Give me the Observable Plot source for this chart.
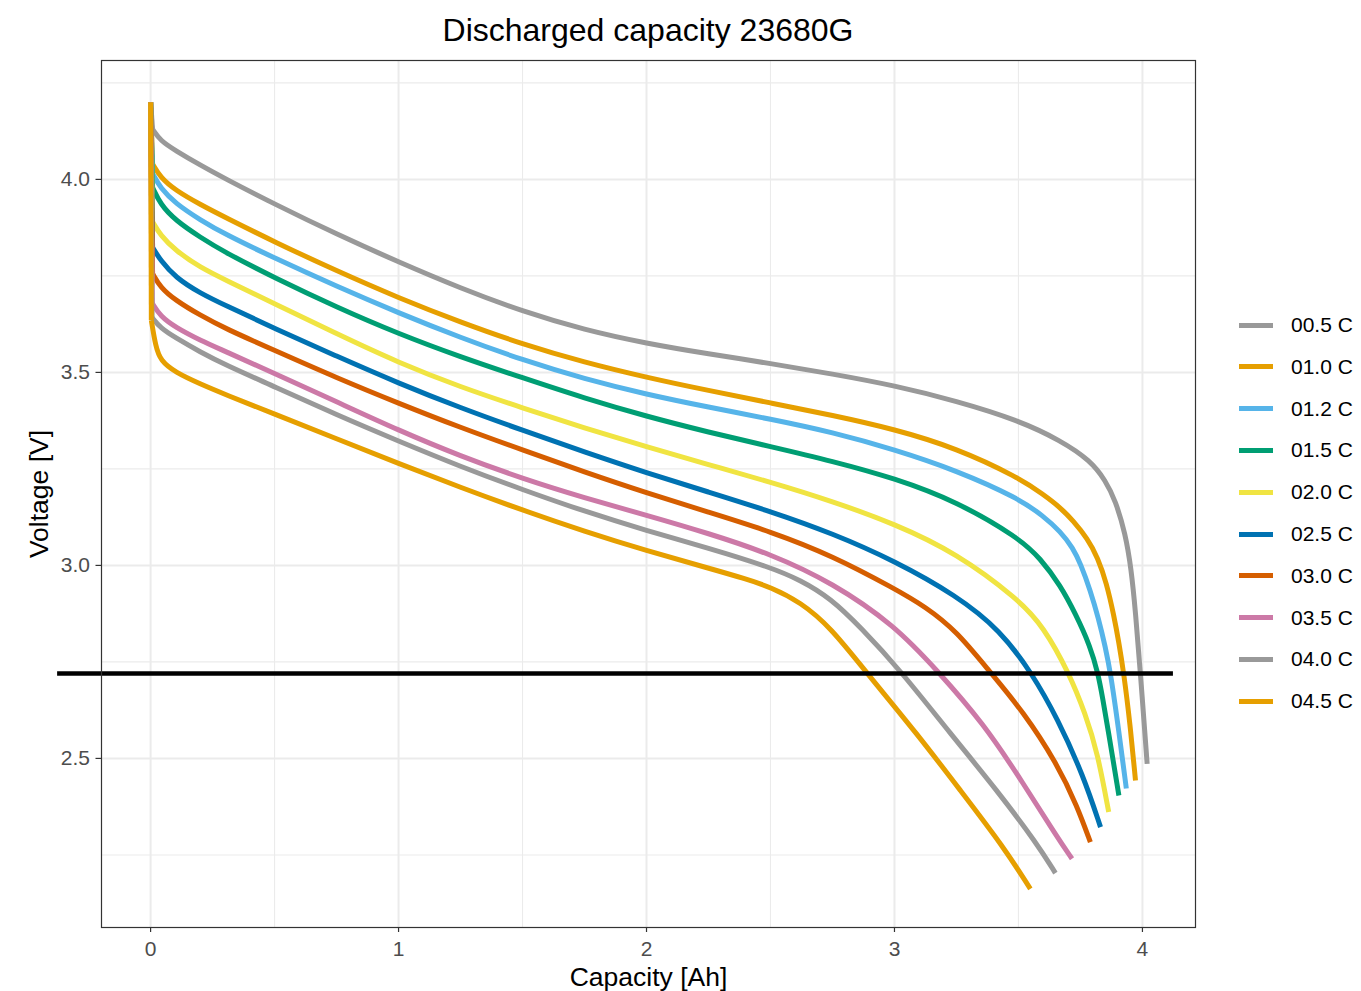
<!DOCTYPE html>
<html>
<head>
<meta charset="utf-8">
<script src="https://cdn.jsdelivr.net/npm/d3@7"></script>
<script src="https://cdn.jsdelivr.net/npm/@observablehq/plot@0.6"></script>
<style>
  body { margin: 0; background: #fff; font-family: "Liberation Sans", Arial, sans-serif; }
  #wrap { position: relative; width: 1361px; height: 991px; overflow: hidden; background: #fff; }
  #title { position: absolute; left: 101px; width: 1094px; top: 10px; text-align: center;
           font-size: 32px; line-height: 40px; color: #000; white-space: nowrap; }
  #chart { position: absolute; left: 0; top: 50px; }
  .lg { position: absolute; left: 1239px; height: 40px; display: flex; align-items: center; }
  .lg .sw { width: 34px; height: 5px; }
  .lg .tx { margin-left: 18px; font-size: 21px; color: #000; white-space: nowrap; }
</style>
</head>
<body>
<div id="wrap">
  <div id="title">Discharged capacity 23680G</div>
  <div id="chart"></div>
</div>
<script>
// ---- series labels & colours ----
const rates = ["00.5 C", "01.0 C", "01.2 C", "01.5 C", "02.0 C", "02.5 C", "03.0 C", "03.5 C", "04.0 C", "04.5 C"];
const palette = ["#999999", "#E69F00", "#56B4E9", "#009E73", "#F0E442", "#0072B2", "#D55E00", "#CC79A7", "#999999", "#E69F00"];

// ---- axis ticks / grid ----
const xTicks = [0, 1, 2, 3, 4];
const xMinor = [0.5, 1.5, 2.5, 3.5];
const yTicks = [2.5, 3.0, 3.5, 4.0];
const yMinor = [2.25, 2.75, 3.25, 3.75, 4.25];
const xDomain = [-0.198, 4.214];
const yDomain = [2.062, 4.308];

// ---- cut-off line ----
const cutoffVoltage = 2.72;
const cutoffFrom = -0.375;
const cutoffTo = 4.125;

// ---- discharge curves: capacity [Ah] and voltage [V] ----
const cap05  = [0, 0.008, 0.04, 0.1, 0.2, 0.3, 0.5, 0.75, 1.0, 1.25, 1.5, 1.75, 2.0, 2.25, 2.5, 2.75, 3.0, 3.25, 3.5, 3.669, 3.79, 3.851, 3.891, 3.931, 3.955, 3.972, 3.992, 4.019];
const volt05 = [4.2, 4.13, 4.10, 4.075, 4.037, 4.002, 3.936, 3.858, 3.786, 3.718, 3.658, 3.610, 3.575, 3.548, 3.523, 3.496, 3.466, 3.426, 3.376, 3.324, 3.272, 3.22, 3.168, 3.083, 2.99, 2.88, 2.72, 2.486];

const cap10  = [0, 0.008, 0.04, 0.1, 0.2, 0.3, 0.5, 0.75, 1.0, 1.25, 1.5, 1.75, 2.0, 2.25, 2.5, 2.75, 3.0, 3.25, 3.5, 3.6, 3.669, 3.72, 3.778, 3.82, 3.855, 3.885, 3.905, 3.925, 3.95, 3.972];
const volt10 = [4.2, 4.04, 4.005, 3.972, 3.935, 3.902, 3.838, 3.763, 3.693, 3.630, 3.573, 3.526, 3.487, 3.453, 3.421, 3.389, 3.353, 3.304, 3.228, 3.184, 3.15, 3.116, 3.07, 3.02, 2.955, 2.87, 2.80, 2.72, 2.59, 2.443];

const cap12  = [0, 0.008, 0.04, 0.1, 0.2, 0.3, 0.5, 0.75, 1.0, 1.25, 1.5, 1.75, 2.0, 2.25, 2.5, 2.75, 3.0, 3.25, 3.5, 3.6, 3.669, 3.72, 3.75, 3.79, 3.823, 3.85, 3.872, 3.905, 3.935];
const volt12 = [4.2, 4.015, 3.977, 3.938, 3.895, 3.858, 3.796, 3.723, 3.654, 3.590, 3.532, 3.483, 3.443, 3.410, 3.379, 3.345, 3.300, 3.246, 3.174, 3.128, 3.088, 3.045, 3.005, 2.935, 2.862, 2.79, 2.72, 2.57, 2.422];

const cap15  = [0, 0.008, 0.04, 0.1, 0.2, 0.3, 0.5, 0.75, 1.0, 1.25, 1.5, 1.75, 2.0, 2.25, 2.5, 2.75, 3.0, 3.25, 3.5, 3.589, 3.669, 3.73, 3.79, 3.821, 3.84, 3.86, 3.905];
const volt15 = [4.2, 3.979, 3.935, 3.894, 3.85, 3.811, 3.745, 3.669, 3.600, 3.540, 3.486, 3.433, 3.386, 3.345, 3.308, 3.27, 3.226, 3.166, 3.072, 3.018, 2.948, 2.875, 2.79, 2.72, 2.655, 2.58, 2.404];

const cap20  = [0, 0.008, 0.04, 0.1, 0.2, 0.3, 0.5, 0.75, 1.0, 1.25, 1.5, 1.75, 2.0, 2.25, 2.5, 2.75, 3.0, 3.25, 3.5, 3.6, 3.705, 3.77, 3.819, 3.864];
const volt20 = [4.2, 3.89, 3.855, 3.816, 3.772, 3.74, 3.678, 3.60, 3.525, 3.462, 3.408, 3.356, 3.307, 3.261, 3.216, 3.166, 3.108, 3.032, 2.912, 2.842, 2.72, 2.615, 2.515, 2.361];

const cap25  = [0, 0.008, 0.04, 0.1, 0.2, 0.3, 0.5, 0.75, 1.0, 1.25, 1.5, 1.75, 2.0, 2.25, 2.5, 2.75, 3.0, 3.25, 3.427, 3.555, 3.657, 3.762, 3.831];
const volt25 = [4.2, 3.824, 3.79, 3.746, 3.705, 3.674, 3.614, 3.542, 3.472, 3.408, 3.350, 3.294, 3.240, 3.19, 3.14, 3.083, 3.012, 2.922, 2.832, 2.72, 2.604, 2.455, 2.322];

const cap30  = [0, 0.008, 0.04, 0.1, 0.2, 0.3, 0.5, 0.75, 1.0, 1.25, 1.5, 1.75, 2.0, 2.25, 2.5, 2.75, 3.0, 3.125, 3.25, 3.38, 3.521, 3.656, 3.737, 3.79];
const volt30 = [4.2, 3.756, 3.72, 3.687, 3.648, 3.614, 3.557, 3.486, 3.420, 3.357, 3.299, 3.242, 3.188, 3.138, 3.088, 3.025, 2.94, 2.893, 2.83, 2.728, 2.620, 2.486, 2.376, 2.283];

const cap35  = [0, 0.007, 0.04, 0.1, 0.2, 0.3, 0.5, 0.75, 1.0, 1.25, 1.5, 1.75, 2.0, 2.25, 2.5, 2.75, 3.0, 3.172, 3.36, 3.521, 3.656, 3.716];
const volt35 = [4.2, 3.679, 3.645, 3.617, 3.583, 3.555, 3.497, 3.424, 3.350, 3.283, 3.225, 3.175, 3.13, 3.083, 3.03, 2.955, 2.845, 2.728, 2.59, 2.434, 2.296, 2.24];

const cap40  = [0, 0.006, 0.04, 0.1, 0.2, 0.3, 0.5, 0.75, 1.0, 1.25, 1.5, 1.75, 2.0, 2.25, 2.5, 2.621, 2.742, 2.863, 3.024, 3.226, 3.414, 3.575, 3.649];
const volt40 = [4.2, 3.642, 3.615, 3.59, 3.553, 3.52, 3.463, 3.39, 3.322, 3.256, 3.196, 3.14, 3.09, 3.045, 2.995, 2.962, 2.915, 2.84, 2.728, 2.564, 2.417, 2.279, 2.203];

const cap45  = [0, 0.003, 0.02, 0.04, 0.1, 0.2, 0.3, 0.5, 0.75, 1.0, 1.25, 1.5, 1.75, 2.0, 2.25, 2.4, 2.5, 2.621, 2.742, 2.89, 3.091, 3.266, 3.441, 3.548];
const volt45 = [4.2, 3.635, 3.568, 3.53, 3.50, 3.47, 3.443, 3.392, 3.328, 3.264, 3.202, 3.143, 3.088, 3.038, 2.993, 2.965, 2.944, 2.905, 2.84, 2.72, 2.564, 2.417, 2.27, 2.162];

const capacities = [cap05, cap10, cap12, cap15, cap20, cap25, cap30, cap35, cap40, cap45];
const voltages   = [volt05, volt10, volt12, volt15, volt20, volt25, volt30, volt35, volt40, volt45];

// long tables for Plot: the initial vertical voltage drop, and the smooth discharge part
const dropRows = rates.flatMap((rate, k) =>
  capacities[k].slice(0, 2).map((c, i) => ({rate, cap: c, volt: voltages[k][i]})));
const curveRows = rates.flatMap((rate, k) =>
  capacities[k].map((c, i) => ({rate, cap: c, volt: voltages[k][i], i})).filter(d => d.i >= 1));

const font = "'Liberation Sans', Arial, sans-serif";
const lineStyle = {strokeWidth: 5, strokeLinecap: "butt", strokeLinejoin: "round"};

const chart = Plot.plot({
  width: 1220,
  height: 941,
  marginTop: 10,
  marginLeft: 101,
  marginRight: 25,
  marginBottom: 64,
  style: {fontFamily: font, background: "transparent", overflow: "visible"},
  x: {domain: xDomain},
  y: {domain: yDomain},
  color: {domain: rates, range: palette, type: "ordinal"},
  marks: [
    Plot.gridX(xMinor, {stroke: "#ebebeb", strokeOpacity: 1, strokeWidth: 1.1}),
    Plot.gridY(yMinor, {stroke: "#ebebeb", strokeOpacity: 1, strokeWidth: 1.1}),
    Plot.gridX(xTicks, {stroke: "#ebebeb", strokeOpacity: 1, strokeWidth: 2}),
    Plot.gridY(yTicks, {stroke: "#ebebeb", strokeOpacity: 1, strokeWidth: 2}),
    Plot.line(curveRows, {x: "cap", y: "volt", z: "rate", stroke: "rate", curve: "basis", ...lineStyle}),
    Plot.line(dropRows, {x: "cap", y: "volt", z: "rate", stroke: "rate", curve: "linear", ...lineStyle}),
    Plot.ruleY([cutoffVoltage], {x1: cutoffFrom, x2: cutoffTo, stroke: "#000", strokeWidth: 4.5}),
    Plot.frame({stroke: "#333333", strokeWidth: 1.2}),
    Plot.axisX({ticks: xTicks, tickFormat: d3.format("d"), tickSize: 5, tickPadding: 9,
      fontSize: 21, fill: "#4d4d4d", stroke: "#333333", strokeWidth: 1.2, label: null}),
    Plot.axisY({ticks: yTicks, tickFormat: d3.format(".1f"), tickSize: 5.5, tickPadding: 6,
      fontSize: 21, fill: "#4d4d4d", stroke: "#333333", strokeWidth: 1.2, label: null}),
    Plot.text(["Capacity [Ah]"], {frameAnchor: "bottom", textAnchor: "middle", lineAnchor: "top",
      dy: 40, fontSize: 26.5, fill: "#000"}),
    Plot.text(["Voltage [V]"], {frameAnchor: "left", textAnchor: "middle", lineAnchor: "top",
      rotate: -90, dx: -72, fontSize: 26.5, fill: "#000"})
  ]
});
document.getElementById("chart").appendChild(chart);

// legend
const wrap = document.getElementById("wrap");
rates.forEach((r, i) => {
  const row = document.createElement("div");
  row.className = "lg";
  row.style.top = (325 + i * 41.8 - 20) + "px";
  const sw = document.createElement("div");
  sw.className = "sw";
  sw.style.background = palette[i];
  const tx = document.createElement("div");
  tx.className = "tx";
  tx.textContent = r;
  row.appendChild(sw);
  row.appendChild(tx);
  wrap.appendChild(row);
});
</script>
</body>
</html>
